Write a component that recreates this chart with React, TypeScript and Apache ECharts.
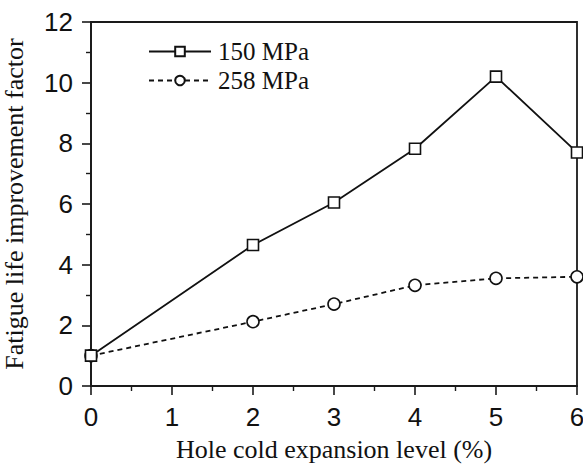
import React, { useEffect, useRef } from "react";
import * as echarts from "echarts";

const xLevels = [0, 2, 3, 4, 5, 6];
const s150 = [1.0, 4.65, 6.05, 7.82, 10.2, 7.7];
const s258 = [1.0, 2.12, 2.7, 3.32, 3.55, 3.6];
const seriesNames = ["150 MPa", "258 MPa"];

export default function App() {
  const ref = useRef<HTMLDivElement>(null);
  useEffect(() => {
    if (!ref.current) return;
    const chart = echarts.init(ref.current, null, { renderer: "svg" });
    const axisColor = "#1a1a1a";
    const common = {
      axisLine: { show: true, lineStyle: { color: axisColor, width: 1.8 } },
      axisTick: { show: true, inside: false, length: 9, lineStyle: { color: axisColor, width: 1.6 } },
      minorTick: { show: true, splitNumber: 2, length: 5, lineStyle: { color: axisColor, width: 1.4 } },
      splitLine: { show: false },
      axisLabel: { color: "#111", fontFamily: "Liberation Sans", fontSize: 26, margin: 18 },
      nameTextStyle: { color: "#111", fontFamily: "Liberation Serif", fontSize: 26 },
    };
    chart.setOption({
      animation: false,
      backgroundColor: "#fff",
      grid: {
        left: 91,
        right: 6,
        top: 22,
        bottom: 78,
        show: true,
        borderColor: axisColor,
        borderWidth: 1.8,
        outerBoundsMode: "none",
        containLabel: false,
      },
      legend: {
        left: 143,
        top: 34,
        orient: "vertical",
        itemWidth: 62,
        itemHeight: 12,
        itemGap: 4,
        textStyle: { fontFamily: "Liberation Serif", fontSize: 25, color: "#111", padding: [0, 0, 0, 2] },
        data: seriesNames,
      },
      xAxis: {
        type: "value",
        min: 0,
        max: 6,
        interval: 1,
        name: "Hole cold expansion level (%)",
        nameLocation: "middle",
        nameGap: 50,
        ...common,
      },
      yAxis: {
        type: "value",
        min: 0,
        max: 12,
        interval: 2,
        name: "Fatigue life improvement factor",
        nameLocation: "middle",
        nameGap: 64,
        ...common,
      },
      series: [
        {
          name: seriesNames[0],
          type: "line",
          data: xLevels.map((x, i) => [x, s150[i]]),
          symbol: "rect",
          symbolSize: 11,
          lineStyle: { color: "#111", width: 1.8, type: "solid" },
          itemStyle: { color: "#fff", borderColor: "#111", borderWidth: 1.6 },
          z: 3,
        },
        {
          name: seriesNames[1],
          type: "line",
          data: xLevels.map((x, i) => [x, s258[i]]),
          symbol: "circle",
          symbolSize: 12,
          lineStyle: { color: "#111", width: 1.8, type: [5, 4] },
          itemStyle: { color: "#fff", borderColor: "#111", borderWidth: 1.6 },
          z: 2,
        },
      ],
    });
    return () => chart.dispose();
  }, []);
  return (
    <div style={{ position: "absolute", left: 0, top: 0 }}>
      <div ref={ref} style={{ width: 583, height: 464 }} />
    </div>
  );
}
